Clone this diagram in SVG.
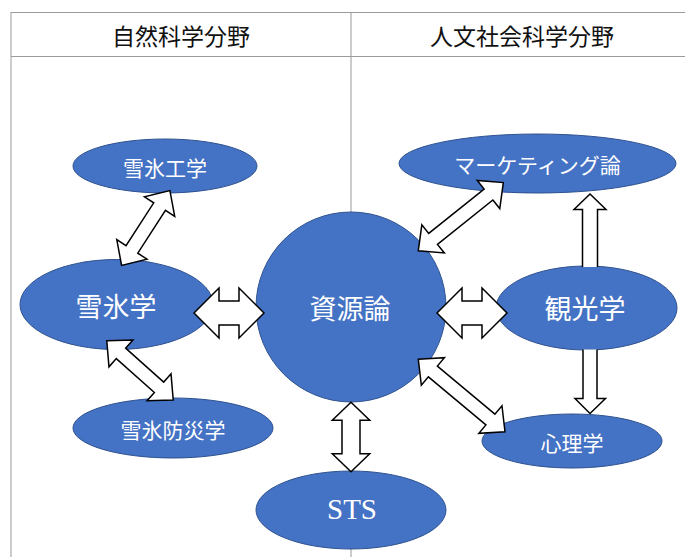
<svg xmlns="http://www.w3.org/2000/svg" width="685" height="557" viewBox="0 0 685 557">
<style>
.grid{stroke:#9a9a9a;stroke-width:1;fill:none}
.hdr{font-family:"Noto Sans CJK JP","Noto Sans CJK SC",sans-serif;font-size:23px;fill:#111;text-anchor:middle;dominant-baseline:central}
.node{fill:#4472C4;stroke:#2F528F;stroke-width:1}
.lbl{font-family:"Noto Sans CJK JP","Noto Sans CJK SC",sans-serif;fill:#fff;text-anchor:middle;dominant-baseline:central}
.s21{font-size:21px}
.s27{font-size:27px}
.sts{font-family:"Liberation Serif","Times New Roman",serif;font-size:29px;fill:#fff;text-anchor:middle}
.arr{fill:#fff;stroke:#000;stroke-width:1.5;stroke-linejoin:miter}
</style>
<rect width="685" height="557" fill="#fff"/>
<g id="table">
<line class="grid" x1="11" y1="12.5" x2="685" y2="12.5"/>
<line class="grid" x1="11" y1="56.5" x2="685" y2="56.5"/>
<line class="grid" x1="11" y1="12" x2="11" y2="557"/>
<line class="grid" x1="351" y1="12" x2="351" y2="557"/>
<text class="hdr" x="181" y="35">自然科学分野</text>
<text class="hdr" x="522" y="35">人文社会科学分野</text>
</g>
<g id="n-sehyo-kogaku"><ellipse class="node" cx="165" cy="166" rx="92" ry="27"/><text class="lbl s21" x="165" y="167">雪氷工学</text></g>
<g id="n-sehyogaku"><ellipse class="node" cx="116.5" cy="304.5" rx="96.5" ry="45"/><text class="lbl s27" x="116" y="305">雪氷学</text></g>
<g id="n-sehyo-bosai"><ellipse class="node" cx="173" cy="428" rx="100" ry="30"/><text class="lbl s21" x="173" y="429">雪氷防災学</text></g>
<g id="n-shigen"><circle class="node" cx="351" cy="307" r="95"/><text class="lbl s27" x="350" y="307">資源論</text></g>
<g id="n-sts"><ellipse class="node" cx="351" cy="510" rx="95" ry="39"/><text class="sts" x="352" y="518.5">STS</text></g>
<g id="n-marketing"><ellipse class="node" cx="537.5" cy="163.5" rx="138.5" ry="29.5"/><text class="lbl s21" x="537.5" y="163.5">マーケティング論</text></g>
<g id="n-kanko"><ellipse class="node" cx="586.5" cy="308" rx="90.5" ry="42"/><text class="lbl s27" x="585" y="307">観光学</text></g>
<g id="n-shinri"><ellipse class="node" cx="572" cy="441" rx="90" ry="27"/><text class="lbl s21" x="572" y="442">心理学</text></g>
<g id="connectors">
<polygon class="arr" transform="translate(145.75,228) rotate(-57.1)" points="-44.5,0 -25.5,-18 -25.5,-7 25.5,-7 25.5,-18 44.5,0 25.5,18 25.5,7 -25.5,7 -25.5,18"/>
<polygon class="arr" transform="translate(140,370.35) rotate(41.7)" points="-44.5,0 -25.5,-18 -25.5,-7 25.5,-7 25.5,-18 44.5,0 25.5,18 25.5,7 -25.5,7 -25.5,18"/>
<polygon class="arr" transform="translate(460.8,216.7) rotate(-38.7)" points="-54.5,0 -35.5,-18 -35.5,-7 35.5,-7 35.5,-18 54.5,0 35.5,18 35.5,7 -35.5,7 -35.5,18"/>
<polygon class="arr" transform="translate(461.65,395.5) rotate(39.9)" points="-56.5,0 -37.5,-18 -37.5,-7 37.5,-7 37.5,-18 56.5,0 37.5,18 37.5,7 -37.5,7 -37.5,18"/>
<polygon class="arr" transform="translate(229,313)" points="-35,0 -10,-25 -10,-12 10,-12 10,-25 35,0 10,25 10,12 -10,12 -10,25"/>
<polygon class="arr" transform="translate(472,313)" points="-35,0 -10,-25 -10,-12 10,-12 10,-25 35,0 10,25 10,12 -10,12 -10,25"/>
<polygon class="arr" transform="translate(351,437) rotate(90)" points="-34.7,0 -16.7,-18.7 -16.7,-9 16.7,-9 16.7,-18.7 34.7,0 16.7,18.7 16.7,9 -16.7,9 -16.7,18.7"/>
<path class="arr" d="M582.5,267 V209.5 H574 L590,194 L606,209.5 H597.5 V267"/>
<path class="arr" d="M583,349.5 V398.5 H575 L590,413.5 L605.5,398.5 H597 V349.5"/>
</g>
</svg>
